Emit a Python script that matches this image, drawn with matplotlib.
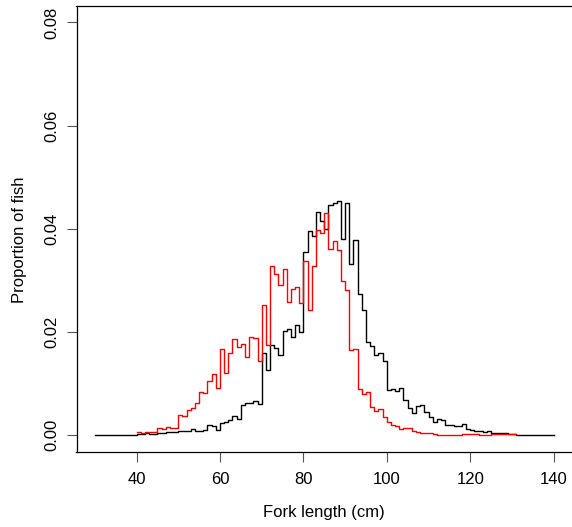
import matplotlib
matplotlib.use("Agg")
import matplotlib.pyplot as plt
import numpy as np

plt.rcParams['font.family'] = ['Liberation Sans', 'DejaVu Sans']

# Fork length bins (cm)
black_lengths = list(range(30, 141))
black_props = [
    0, 0, 0, 0, 0, 0, 0, 0, 0, 0,
    0.0002, 0.0002, 0.0003, 0.0002, 0.0002, 0.0003, 0.0003, 0.0006, 0.0006, 0.0006,
    0.0008, 0.0008, 0.0008, 0.0012, 0.0008, 0.0008, 0.0009, 0.0019, 0.0017, 0.0010,
    0.0024, 0.0026, 0.0029, 0.0037, 0.0031, 0.0058, 0.0062, 0.0062, 0.0065, 0.0060,
    0.0160, 0.0127, 0.0175, 0.0168, 0.0156, 0.0201, 0.0206, 0.0191, 0.0213, 0.0199,
    0.0355, 0.0396, 0.0385, 0.0433, 0.0415, 0.0400, 0.0446, 0.0450, 0.0454, 0.0381,
    0.0449, 0.0331, 0.0378, 0.0273, 0.0243, 0.0180, 0.0172, 0.0155, 0.0160, 0.0144,
    0.0088, 0.0089, 0.0086, 0.0091, 0.0068, 0.0053, 0.0043, 0.0056, 0.0058, 0.0045,
    0.0035, 0.0026, 0.0032, 0.0029, 0.0019, 0.0019, 0.0018, 0.0018, 0.0021, 0.0011,
    0.0009, 0.0008, 0.0008, 0.0006, 0.0008, 0.0003, 0.0003, 0.0003, 0.0003, 0.0001,
    0.0001, 0, 0, 0, 0, 0, 0, 0, 0, 0,
    0,
]

red_lengths = list(range(40, 132))
red_props = [
    0.0005, 0.0003, 0.0005, 0.0005, 0.0005, 0.0014, 0.0012, 0.0016, 0.0014, 0.0014,
    0.0038, 0.0036, 0.0049, 0.0053, 0.0063, 0.0084, 0.0082, 0.0105, 0.0119, 0.0092,
    0.0166, 0.0120, 0.0159, 0.0186, 0.0170, 0.0177, 0.0152, 0.0191, 0.0188, 0.0144,
    0.0252, 0.0175, 0.0328, 0.0312, 0.0290, 0.0321, 0.0258, 0.0284, 0.0287, 0.0256,
    0.0337, 0.0243, 0.0327, 0.0398, 0.0392, 0.0431, 0.0360, 0.0376, 0.0359, 0.0298,
    0.0282, 0.0164, 0.0167, 0.0089, 0.0079, 0.0083, 0.0054, 0.0046, 0.0050, 0.0035,
    0.0026, 0.0020, 0.0018, 0.0012, 0.0014, 0.0014, 0.0008, 0.0006, 0.0004, 0.0004,
    0.0004, 0.0001, 0.0000, 0.0000, 0.0000, 0.0000, 0.0000, 0.0000, 0.0002, 0.0002,
    0.0002, 0.0001, 0.0000, 0.0000, 0.0000, 0.0001, 0.0002, 0.0001, 0.0001, 0.0001,
    0.0001, 0.0001,
]

x_ticks = [40, 60, 80, 100, 120, 140]
y_ticks = [0.00, 0.02, 0.04, 0.06, 0.08]
y_tick_labels = ["0.00", "0.02", "0.04", "0.06", "0.08"]

W, H = 572, 527
fig = plt.figure(figsize=(W / 100, H / 100), dpi=100)
left, right, top, bottom = 76.5, 572, 6, 451.5
ax = fig.add_axes([left / W, (H - bottom) / H, (right - left) / W, (bottom - top) / H])

ax.plot(black_lengths, black_props, drawstyle='steps-post', color='black', lw=1.0)
ax.plot(red_lengths, red_props, drawstyle='steps-post', color='#ff0000', lw=1.0)

ax.set_xlim(25.6, 144.4)
ax.set_ylim(-0.0032, 0.0832)
ax.set_xticks(x_ticks)
ax.set_xticklabels([str(t) for t in x_ticks])
ax.set_yticks(y_ticks)
ax.set_yticklabels(y_tick_labels, rotation=90, va='center')
ax.tick_params(axis='both', direction='out', length=7, width=0.8, color='#555555', labelsize=12)
ax.tick_params(axis='x', pad=8)
ax.tick_params(axis='y', pad=5)
ax.spines['right'].set_visible(False)
for s in ['left', 'bottom', 'top']:
    ax.spines[s].set_linewidth(0.9)

fig.text(324 / W, 1 - 513 / H, "Fork length (cm)", ha='center', va='center', fontsize=12)
fig.text(20 / W, 1 - 240 / H, "Proportion of fish", ha='center', va='center', rotation=90, fontsize=12)

fig.savefig("out.png", dpi=100)
